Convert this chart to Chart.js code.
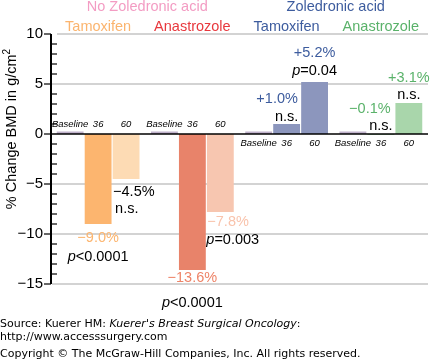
<!DOCTYPE html>
<html><head><meta charset="utf-8">
<script src="https://cdn.jsdelivr.net/npm/chart.js@4/dist/chart.umd.min.js"></script>
<style>
html,body{margin:0;padding:0;background:#fff;}
#wrap{position:relative;width:431px;height:360px;overflow:hidden;background:#fff;}
#c{position:absolute;left:0;top:0;}
.foot{position:absolute;left:0;font-family:"DejaVu Sans",Verdana,sans-serif;font-size:11px;color:#000;white-space:nowrap;line-height:13px;}
</style></head><body>
<div id="wrap">
<canvas id="c" width="431" height="360"></canvas>
<div class="foot" style="top:317px">Source: Kuerer HM: <i>Kuerer's Breast Surgical Oncology</i>:</div>
<div class="foot" style="top:330px">http://www.accesssurgery.com</div>
<div class="foot" style="top:347px">Copyright © The McGraw-Hill Companies, Inc. All rights reserved.</div>
</div>
<script>
// ---- data ----
const groups = ['Tamoxifen', 'Anastrozole', 'Tamoxifen', 'Anastrozole'];
const arms = ['No Zoledronic acid', 'Zoledronic acid'];
const timepoints = ['Baseline', '36', '60'];
const baselineValues = [0.25, 0.25, 0.25, 0.25];
const month36Values = [-9.0, -13.6, 1.0, -0.1];
const month60Values = [-4.5, -7.8, 5.2, 3.1];
const pct36Labels = ['\u22129.0%', '\u221213.6%', '+1.0%', '\u22120.1%'];
const pct60Labels = ['\u22124.5%', '\u22127.8%', '+5.2%', '+3.1%'];
const p36Labels = ['p<0.0001', 'p<0.0001', 'n.s.', 'n.s.'];
const p60Labels = ['n.s.', 'p=0.003', 'p=0.04', 'n.s.'];
const yTickValues = [10, 5, 0, -5, -10, -15];
const yTitle = '% Change BMD in g/cm';
const yTitleSup = '2';

// ---- styles ----
const FONT = '"Liberation Sans", Arial, Helvetica, sans-serif';
const baseColor = '#bfb1ca';
const c36 = ['#fcb56f', '#e8836a', '#8c96bd', '#a9d6ab'];
const c60 = ['#fddbb4', '#f7c6b0', '#8c96bd', '#a9d6ab'];
const armColors = ['#f39cc3', '#3d5c9e'];
const groupColors = ['#fbb46e', '#e8383d', '#3d5c9e', '#5ab26a'];
const pct36Colors = ['#fcb56f', '#ee8468', '#3d5c9e', '#5ab26a'];
const pct60Colors = ['#000', '#f9c3ac', '#3d5c9e', '#5ab26a'];
// label offsets relative to bar (x center, tip y): [dx, dy, align]
const pct36Pos = [[0, 14, 'center'], [0, 8, 'center'], [-9.5, -25, 'center'], [-11, -26, 'center']];
const p36Pos = [[0, 33, 'center'], [0, 33, 'center'], [0, -7, 'center'], [0, -9, 'center']];
const pct60Pos = [[-13, 13, 'left'], [-13, 10, 'left'], [0, -29, 'center'], [0, -25, 'center']];
const p60Pos = [[-11, 30, 'left'], [-14, 28, 'left'], [0, -11, 'center'], [0, -8, 'center']];

function drawRich(ctx, text, x, y, align, color, size) {
  let parts;
  if (text.startsWith('p')) parts = [['italic ', 'p'], ['', text.slice(1)]];
  else parts = [['', text]];
  let total = 0;
  const widths = parts.map(p => { ctx.font = p[0] + size + 'px ' + FONT; const w = ctx.measureText(p[1]).width; total += w; return w; });
  let sx = align === 'center' ? x - total / 2 : (align === 'right' ? x - total : x);
  ctx.textAlign = 'left';
  ctx.textBaseline = 'middle';
  ctx.fillStyle = color;
  parts.forEach((p, i) => { ctx.font = p[0] + size + 'px ' + FONT; ctx.fillText(p[1], sx, y); sx += widths[i]; });
}

const decor = {
  id: 'decor',
  beforeDatasetsDraw(chart) {
    const ctx = chart.ctx, ys = chart.scales.y, ca = chart.chartArea;
    ctx.save();
    ctx.strokeStyle = '#c4c4c4'; ctx.lineWidth = 1.5;
    yTickValues.forEach(v => {
      if (v === 0) return;
      const y = ys.getPixelForValue(v);
      ctx.beginPath(); ctx.moveTo(ca.left + (v === 10 ? 6 : 1), y); ctx.lineTo(ca.right, y); ctx.stroke();
    });
    ctx.restore();
  },
  afterDatasetsDraw(chart) {
    const ctx = chart.ctx, ys = chart.scales.y, xs = chart.scales.x, ca = chart.chartArea;
    ctx.save();
    const y0 = ys.getPixelForValue(0);
    ctx.strokeStyle = '#000'; ctx.lineWidth = 1.6;
    ctx.beginPath(); ctx.moveTo(ca.left, y0); ctx.lineTo(ca.right, y0); ctx.stroke();
    ctx.lineWidth = 2;
    ctx.beginPath(); ctx.moveTo(ca.left, ys.getPixelForValue(10)); ctx.lineTo(ca.left, ys.getPixelForValue(-15)); ctx.stroke();
    ctx.lineWidth = 1.2;
    for (let v = -15; v <= 10; v++) {
      const y = ys.getPixelForValue(v);
      ctx.beginPath();
      if (v % 5 === 0) { ctx.moveTo(ca.left - 7, y); ctx.lineTo(ca.left, y); }
      else { ctx.moveTo(ca.left, y); ctx.lineTo(ca.left + 6, y); }
      ctx.stroke();
    }
    ctx.fillStyle = '#000'; ctx.font = '15px ' + FONT; ctx.textAlign = 'right'; ctx.textBaseline = 'middle';
    yTickValues.forEach(v => ctx.fillText(String(v).replace('-', '\u2212'), ca.left - 8, ys.getPixelForValue(v)));
    ctx.save();
    ctx.translate(12, 129); ctx.rotate(-Math.PI / 2);
    ctx.font = '14.5px ' + FONT;
    const tw = ctx.measureText(yTitle).width;
    ctx.font = '10px ' + FONT;
    const sw = ctx.measureText(yTitleSup).width;
    const sx = -(tw + sw) / 2;
    ctx.font = '14.5px ' + FONT; ctx.textAlign = 'left'; ctx.textBaseline = 'middle';
    ctx.fillText(yTitle, sx, 0);
    ctx.font = '10px ' + FONT;
    ctx.fillText(yTitleSup, sx + tw, -5);
    ctx.restore();
    const metas = [0, 1, 2].map(i => chart.getDatasetMeta(i));
    ctx.font = 'italic 9.5px ' + FONT; ctx.textAlign = 'center'; ctx.textBaseline = 'middle'; ctx.fillStyle = '#000';
    groups.forEach((g, gi) => {
      metas.forEach((m, ti) => {
        const bx = m.data[gi].x;
        const ty = gi < 2 ? y0 - 10 : y0 + 9.5;
        ctx.fillText(timepoints[ti], bx, ty);
      });
    });
    groups.forEach((g, gi) => {
      const b36 = metas[1].data[gi], b60 = metas[2].data[gi];
      const t36 = ys.getPixelForValue(month36Values[gi]);
      const t60 = ys.getPixelForValue(month60Values[gi]);
      let p = pct36Pos[gi]; drawRich(ctx, pct36Labels[gi], b36.x + p[0], t36 + p[1], p[2], pct36Colors[gi], 14.5);
      p = p36Pos[gi]; drawRich(ctx, p36Labels[gi], b36.x + p[0], t36 + p[1], p[2], '#000', 14.5);
      p = pct60Pos[gi]; drawRich(ctx, pct60Labels[gi], b60.x + p[0], t60 + p[1], p[2], pct60Colors[gi], 14.5);
      p = p60Pos[gi]; drawRich(ctx, p60Labels[gi], b60.x + p[0], t60 + p[1], p[2], '#000', 14.5);
    });
    ctx.font = '14.5px ' + FONT; ctx.textAlign = 'center'; ctx.textBaseline = 'middle';
    groups.forEach((g, gi) => {
      ctx.fillStyle = groupColors[gi];
      ctx.fillText(g, xs.getPixelForValue(gi), 27);
    });
    arms.forEach((a, ai) => {
      ctx.fillStyle = armColors[ai];
      const cx = (xs.getPixelForValue(ai * 2) + xs.getPixelForValue(ai * 2 + 1)) / 2 + 2;
      ctx.fillText(a, cx, 7);
    });
    ctx.restore();
  }
};

new Chart(document.getElementById('c'), {
  type: 'bar',
  data: {
    labels: groups.map((g, i) => g + ' (' + arms[i < 2 ? 0 : 1] + ')'),
    datasets: [
      { label: timepoints[0], data: baselineValues, backgroundColor: baseColor },
      { label: timepoints[1], data: month36Values, backgroundColor: c36 },
      { label: timepoints[2], data: month60Values, backgroundColor: c60 }
    ]
  },
  options: {
    responsive: false,
    animation: false,
    devicePixelRatio: 1,
    layout: { padding: { left: 0, right: 3, top: 34, bottom: 76 } },
    datasets: { bar: { categoryPercentage: 0.89, barPercentage: 0.96 } },
    plugins: { legend: { display: false }, tooltip: { enabled: false } },
    scales: {
      x: { display: false },
      y: {
        min: -15, max: 10,
        ticks: { display: false, stepSize: 5 },
        grid: { display: false },
        border: { display: false },
        afterFit(s) { s.width = 51; }
      }
    }
  },
  plugins: [decor]
});
</script>
</body></html>
